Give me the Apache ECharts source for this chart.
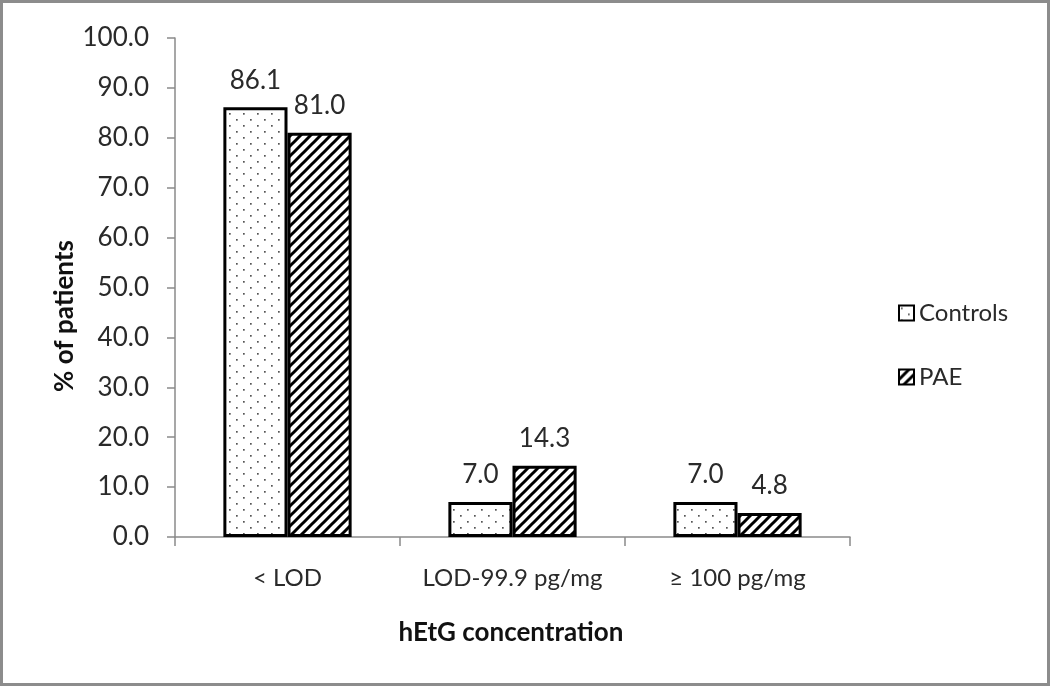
<!DOCTYPE html>
<html><head><meta charset="utf-8">
<script src="https://cdn.jsdelivr.net/npm/echarts@6/dist/echarts.min.js"></script>
<style>
html,body{margin:0;padding:0;background:#fff;}
#c{width:1050px;height:686px;box-sizing:border-box;border:3px solid #8c8c8c;}
</style></head>
<body><div id="c"></div>
<script>
const categories = ['< LOD', 'LOD-99.9 pg/mg', '\u2265 100 pg/mg'];
const controls = [86.1, 7.0, 7.0];
const pae = [81.0, 14.3, 4.8];
const seriesNames = ['Controls', 'PAE'];
const xTitle = 'hEtG concentration';
const yTitle = '% of patients';

function dotPattern(){
  const c = document.createElement('canvas');
  c.width = 14; c.height = 12;
  const g = c.getContext('2d');
  g.fillStyle = '#fff'; g.fillRect(0,0,14,12);
  g.fillStyle = '#555';
  g.fillRect(2,2,1.7,1.7);
  g.fillRect(9,8,1.7,1.7);
  return c;
}
function hatchPattern(){
  const s = 10;
  const c = document.createElement('canvas');
  c.width = s; c.height = s;
  const g = c.getContext('2d');
  g.fillStyle = '#fff'; g.fillRect(0,0,s,s);
  g.strokeStyle = '#000'; g.lineWidth = 3;
  g.beginPath();
  g.moveTo(-s, 2*s); g.lineTo(2*s, -s);
  g.moveTo(-2*s, 2*s); g.lineTo(s, -s);
  g.moveTo(0, 2*s); g.lineTo(3*s, -s);
  g.stroke();
  return c;
}

const FONT = 'Lato, "Open Sans", sans-serif';
const TXT = '#2a2a2a';
const chart = echarts.init(document.getElementById('c'));
const labelStyle = {show:true, position:'top', distance:14, fontSize:26, color:TXT, fontFamily:FONT,
  formatter: p => p.value.toFixed(1)};
chart.setOption({
  animation:false,
  backgroundColor:'#fff',
  grid:{left:172, right:197, top:35, bottom:146},
  legend:{
    orient:'vertical', left:890, top:293, itemGap:40, itemWidth:15, itemHeight:15, icon:'rect',
    textStyle:{fontSize:24, color:TXT, fontFamily:FONT},
    data:seriesNames
  },
  xAxis:{
    type:'category', data:categories,
    axisLine:{lineStyle:{color:'#8a8a8a', width:1.5}},
    axisTick:{show:true, length:9, lineStyle:{color:'#8a8a8a', width:1.5}},
    axisLabel:{fontSize:24, color:TXT, fontFamily:FONT, margin:29, interval:0, hideOverlap:false}
  },
  yAxis:{
    type:'value', min:0, max:100, interval:10,
    axisLine:{show:true, lineStyle:{color:'#8a8a8a', width:1.5}},
    axisTick:{show:true, length:8, lineStyle:{color:'#8a8a8a', width:1.5}},
    splitLine:{show:false},
    axisLabel:{fontSize:26, color:TXT, fontFamily:FONT, margin:26, formatter: v => v.toFixed(1)}
  },
  graphic:[
    {type:'text', x:62, y:313, rotation:Math.PI/2,
     style:{text:yTitle, font:'bold 26px '+FONT, fill:'#111', align:'center', verticalAlign:'middle'}},
    {type:'text', x:508, y:630,
     style:{text:xTitle, font:'bold 26px '+FONT, fill:'#111', align:'center', verticalAlign:'middle'}}
  ],
  series:[
    {name:seriesNames[0], type:'bar', data:controls, barGap:'0%', barCategoryGap:'43%',
     itemStyle:{color:{image:dotPattern(), repeat:'repeat'}, borderColor:'#000', borderWidth:3},
     label:labelStyle},
    {name:seriesNames[1], type:'bar', data:pae,
     itemStyle:{color:{image:hatchPattern(), repeat:'repeat'}, borderColor:'#000', borderWidth:3},
     label:labelStyle}
  ]
});
</script></body></html>
